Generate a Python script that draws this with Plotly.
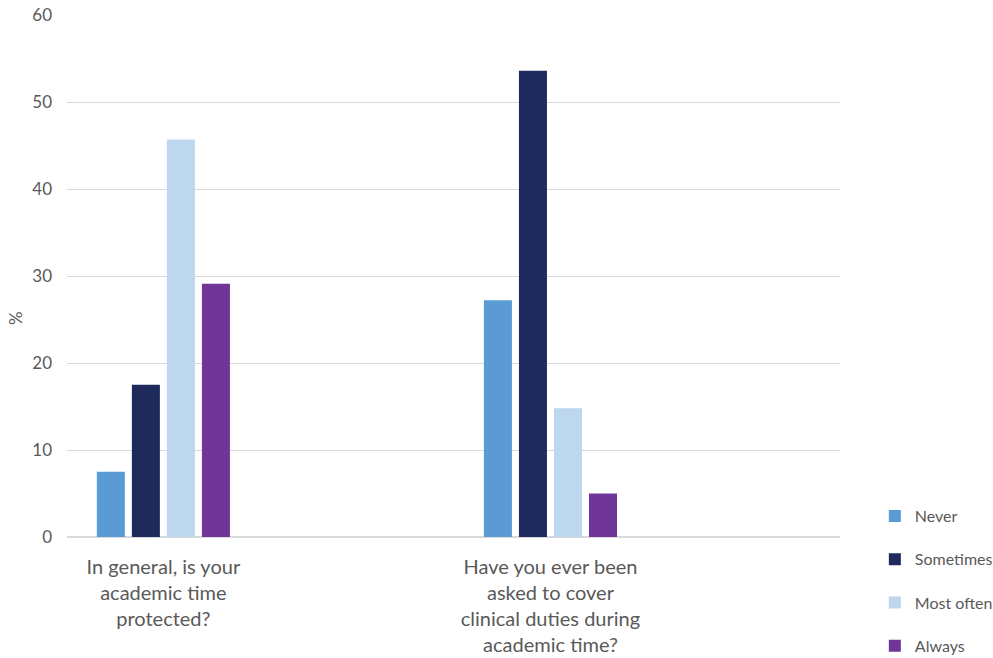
import plotly.graph_objects as go

categories = ["In general, is your<br>academic time<br>protected?",
              "Have you ever been<br>asked to cover<br>clinical duties during<br>academic time?"]
series_names = ["Never", "Sometimes", "Most often", "Always"]
never = [7.5, 27.2]
sometimes = [17.5, 53.6]
most_often = [45.7, 14.8]
always = [29.1, 5.0]
colors = ["#5b9bd5", "#1f2a5c", "#bdd7ee", "#703598"]

fig = go.Figure()
for i, (name, vals) in enumerate(zip(series_names, [never, sometimes, most_often, always])):
    fig.add_trace(go.Bar(x=categories, y=vals, name=name,
                         marker=dict(color=colors[i], line=dict(width=0)),
                         legendgroup=name))

grey = "#595959"
fig.update_layout(
    width=993, height=658,
    margin=dict(l=67, r=153, t=15, b=121, autoexpand=False),
    paper_bgcolor="white", plot_bgcolor="white",
    barmode="group", bargap=0.638, bargroupgap=0.2,
    font=dict(family="Lato", color=grey, size=16),
    legend=dict(xref="container", yref="container",
                x=0.881, xanchor="left", y=0.2416, yanchor="top",
                tracegroupgap=19.5, font=dict(size=16, color=grey),
                bgcolor="rgba(0,0,0,0)", itemwidth=30),
    xaxis=dict(type="category", range=[-0.249, 1.748], showgrid=False,
               showline=False, ticks="", tickfont=dict(size=20, color=grey),
               ticklabelstandoff=16),
    yaxis=dict(range=[0, 60], dtick=10, showgrid=True, gridcolor="#d9d9d9",
               gridwidth=1.3, zeroline=True, zerolinecolor="#d9d9d9", zerolinewidth=1.5,
               showline=False, ticks="", tickfont=dict(size=17, color=grey),
               ticklabelstandoff=14),
    annotations=[dict(text="%", xref="paper", yref="paper",
                      x=(15 - 67) / 773, y=(537 - 318) / 522,
                      xanchor="center", yanchor="middle", showarrow=False,
                      textangle=-90, font=dict(size=17, color=grey))],
)

fig.write_html("out.html")
